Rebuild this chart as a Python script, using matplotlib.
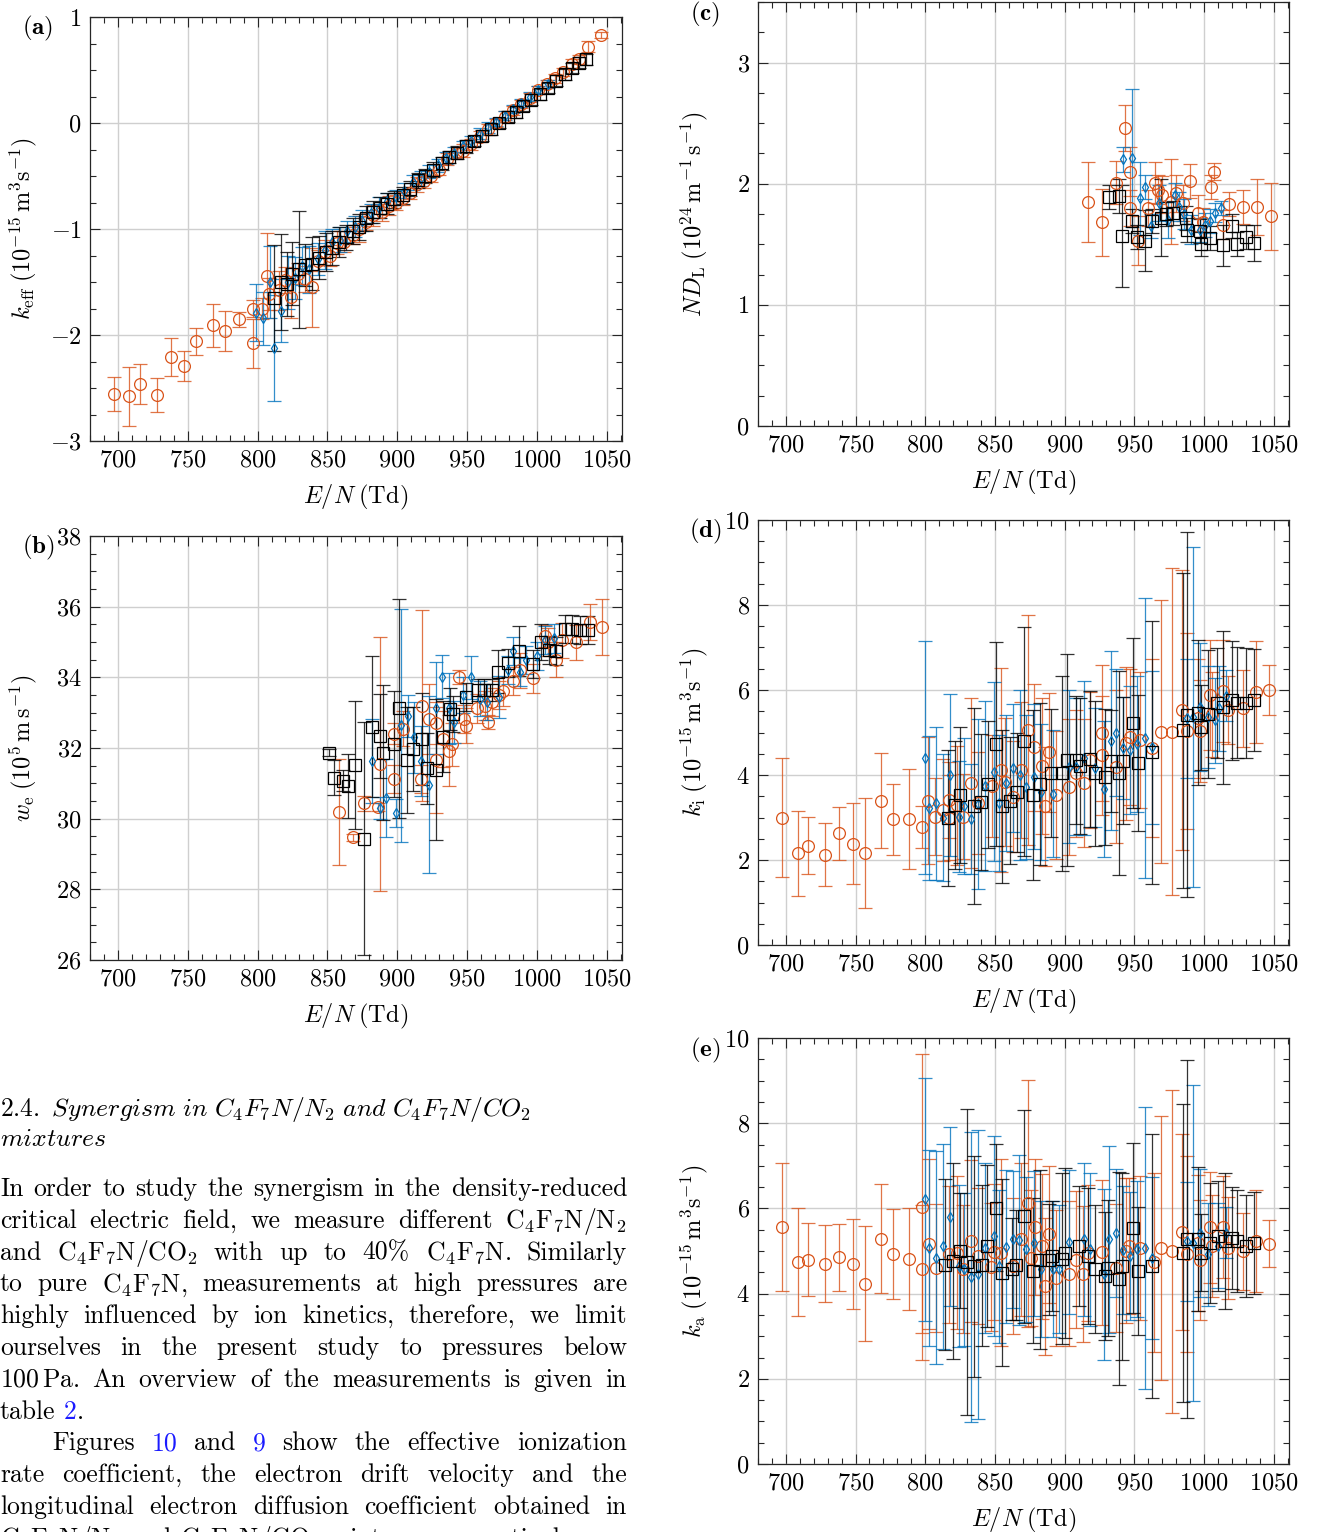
import matplotlib
matplotlib.use('Agg')
import matplotlib.pyplot as plt
import matplotlib.ticker as mticker
from matplotlib.colors import to_rgba

plt.rcParams['font.family'] = 'cmr10'
plt.rcParams['mathtext.fontset'] = 'cm'
plt.rcParams['axes.formatter.use_mathtext'] = True
plt.rcParams['axes.unicode_minus'] = True

ORANGE = '#D95319'
BLUE = '#0072BD'
BLACK = '#000000'

# ---- (a) effective ionization rate coefficient
a_or_x = [697, 708, 716, 728, 738, 747, 756, 768, 777, 787, 797, 797, 803, 807, 808, 815, 820, 824, 829, 834,
          839, 843, 848, 852, 857, 862, 868, 873, 878, 883, 889, 894, 899, 904, 909, 914, 919, 924, 930, 936,
          942, 947, 953, 959, 965, 971, 977, 983, 989, 995, 1001, 1007, 1013, 1019, 1025, 1030, 1037, 1046]
a_or_y = [-2.56, -2.58, -2.46, -2.57, -2.21, -2.29, -2.06, -1.91, -1.96, -1.85, -2.08, -1.75, -1.75, -1.44, -1.61,
          -1.58, -1.48, -1.64, -1.42, -1.47, -1.55, -1.30, -1.22, -1.25, -1.13, -1.12, -1.06, -1.00, -0.93, -0.87,
          -0.84, -0.78, -0.75, -0.71, -0.66, -0.58, -0.55, -0.50, -0.44, -0.34, -0.28, -0.26, -0.20, -0.13, -0.06,
          0.00, 0.06, 0.12, 0.18, 0.24, 0.31, 0.37, 0.42, 0.48, 0.56, 0.60, 0.72, 0.83]
a_or_e = [0.16, 0.28, 0.19, 0.16, 0.18, 0.14, 0.13, 0.20, 0.19, 0.07, 0.23, 0.08, 0.10, 0.40, 0.15, 0.18, 0.12, 0.20,
          0.10, 0.12, 0.37, 0.10, 0.12, 0.10, 0.11, 0.10, 0.08, 0.12, 0.08, 0.10, 0.08, 0.09, 0.07, 0.06, 0.06, 0.07,
          0.06, 0.06, 0.05, 0.06, 0.05, 0.06, 0.05, 0.05, 0.05, 0.04, 0.05, 0.04, 0.04, 0.04, 0.04, 0.04, 0.04, 0.04,
          0.04, 0.04, 0.05, 0.03]
a_bl_x = [799, 804, 809, 812, 817, 822, 827, 832, 837, 843, 848, 853, 859, 864, 870, 875, 881, 887, 893, 899,
          905, 911, 917, 923, 929, 935, 941, 947, 953, 959, 965, 971, 977, 983, 989, 995, 1001, 1008]
a_bl_y = [-1.79, -1.84, -1.50, -2.12, -1.77, -1.50, -1.46, -1.35, -1.38, -1.28, -1.20, -1.12, -1.10, -1.02, -0.98,
          -0.92, -0.85, -0.80, -0.74, -0.70, -0.64, -0.56, -0.52, -0.46, -0.40, -0.33, -0.28, -0.22, -0.17, -0.10,
          -0.04, 0.01, 0.07, 0.13, 0.19, 0.25, 0.31, 0.37]
a_bl_e = [0.27, 0.25, 0.34, 0.50, 0.30, 0.25, 0.20, 0.18, 0.22, 0.15, 0.18, 0.12, 0.12, 0.10, 0.10, 0.10, 0.09, 0.10,
          0.08, 0.07, 0.07, 0.07, 0.07, 0.06, 0.06, 0.06, 0.05, 0.05, 0.05, 0.05, 0.05, 0.04, 0.04, 0.04, 0.04, 0.04,
          0.04, 0.04]
a_bk_x = [812, 817, 821, 825, 830, 834, 839, 844, 849, 853, 858, 863, 868, 873, 878, 883, 888, 893, 898, 904,
          909, 915, 920, 926, 932, 937, 943, 949, 955, 961, 967, 973, 979, 985, 990, 996, 1002, 1008, 1014, 1020,
          1025, 1030, 1035]
a_bk_y = [-1.65, -1.50, -1.52, -1.42, -1.38, -1.34, -1.33, -1.27, -1.22, -1.18, -1.12, -1.08, -1.02, -0.98, -0.90,
          -0.84, -0.80, -0.76, -0.72, -0.68, -0.62, -0.54, -0.50, -0.44, -0.38, -0.32, -0.28, -0.22, -0.17, -0.12,
          -0.06, 0.00, 0.06, 0.10, 0.16, 0.22, 0.27, 0.33, 0.40, 0.46, 0.52, 0.57, 0.60]
a_bk_e = [0.50, 0.45, 0.30, 0.30, 0.55, 0.20, 0.25, 0.20, 0.18, 0.16, 0.14, 0.12, 0.12, 0.12, 0.12, 0.10, 0.10, 0.10,
          0.08, 0.08, 0.07, 0.07, 0.07, 0.07, 0.06, 0.06, 0.06, 0.06, 0.05, 0.05, 0.05, 0.05, 0.05, 0.05, 0.05, 0.05,
          0.05, 0.05, 0.05, 0.05, 0.05, 0.05, 0.05]

# ---- (b) drift velocity
b_or_x = [858, 868, 876, 886, 888, 898, 898, 904, 917, 918, 923, 928, 928, 933, 937, 939, 944, 948, 949, 957,
          963, 965, 968, 973, 976, 983, 988, 997, 1006, 1008, 1014, 1018, 1028, 1038, 1047]
b_or_y = [30.18, 29.47, 30.43, 30.33, 31.54, 31.12, 32.40, 32.55, 31.12, 33.20, 32.82, 32.70, 31.66, 32.25, 31.92,
          32.10, 34.00, 32.82, 32.63, 33.12, 33.20, 32.73, 33.30, 33.50, 33.60, 33.90, 34.20, 33.97, 35.17, 35.00,
          34.50, 35.05, 34.99, 35.57, 35.43]
b_or_e = [1.50, 0.10, 0.20, 0.10, 3.60, 0.40, 0.30, 0.50, 0.40, 2.70, 1.00, 0.60, 1.50, 0.80, 1.00, 0.60, 0.20, 0.40,
          0.50, 0.40, 0.40, 0.20, 0.40, 0.40, 0.40, 0.40, 0.50, 0.40, 0.30, 0.40, 0.50, 0.50, 0.50, 0.50, 0.80]
b_bl_x = [882, 888, 892, 899, 903, 908, 912, 917, 923, 928, 932, 937, 941, 947, 953, 959, 964, 973, 979, 983,
          988, 992, 1000, 1006, 1012]
b_bl_y = [31.63, 30.30, 30.59, 30.16, 32.64, 32.90, 32.30, 31.63, 30.96, 33.14, 34.02, 33.12, 32.73, 33.50, 34.00,
          33.40, 33.30, 33.45, 34.20, 34.75, 34.16, 34.50, 34.60, 35.05, 35.10]
b_bl_e = [1.20, 0.30, 1.10, 0.40, 3.30, 0.60, 1.00, 1.00, 2.50, 1.30, 0.60, 1.00, 0.60, 0.50, 0.60, 0.50, 0.50, 0.60,
          0.40, 0.40, 0.40, 0.40, 0.40, 0.40, 0.40]
b_bk_x = [851, 855, 861, 865, 870, 876, 882, 888, 890, 898, 901, 907, 911, 918, 921, 928, 933, 938, 940, 949,
          958, 962, 968, 972, 979, 987, 997, 1003, 1009, 1014, 1020, 1025, 1031, 1037]
b_bk_y = [31.87, 31.16, 31.07, 30.92, 31.52, 29.43, 32.60, 32.34, 31.87, 32.10, 33.12, 31.66, 31.97, 32.25, 31.42,
          31.39, 32.32, 33.10, 32.96, 33.45, 33.64, 33.64, 33.64, 34.16, 34.40, 34.75, 34.38, 35.00, 34.77, 34.75,
          35.36, 35.36, 35.34, 35.34]
b_bk_e = [0.10, 0.50, 0.30, 0.90, 1.80, 3.30, 2.00, 1.20, 1.90, 1.50, 3.10, 1.50, 1.20, 1.30, 1.00, 2.00, 1.00, 0.60,
          0.50, 0.40, 0.30, 0.30, 0.30, 0.60, 0.40, 0.70, 0.40, 0.50, 0.40, 0.40, 0.40, 0.40, 0.40, 0.40]

# ---- (c) longitudinal diffusion
c_or_x = [917, 927, 937, 943, 947, 947, 953, 960, 965, 967, 970, 976, 980, 985, 990, 996, 999, 1005, 1007, 1014,
          1018, 1028, 1038, 1048]
c_or_y = [1.85, 1.68, 2.01, 2.46, 2.10, 1.80, 1.53, 1.80, 2.01, 1.95, 1.91, 1.85, 1.92, 1.84, 2.02, 1.76, 1.68, 1.97,
          2.10, 1.66, 1.83, 1.81, 1.81, 1.73]
c_or_e = [0.33, 0.28, 0.18, 0.19, 0.20, 0.15, 0.20, 0.15, 0.17, 0.12, 0.15, 0.35, 0.15, 0.15, 0.14, 0.15, 0.12, 0.10,
          0.07, 0.12, 0.10, 0.14, 0.23, 0.28]
c_bl_x = [942, 948, 954, 958, 962, 968, 974, 979, 982, 986, 991, 997, 1001, 1004, 1008, 1012]
c_bl_y = [2.20, 2.21, 1.88, 1.97, 1.65, 1.84, 1.70, 1.91, 1.81, 1.75, 1.62, 1.62, 1.66, 1.69, 1.76, 1.80]
c_bl_e = [0.10, 0.57, 0.30, 0.10, 0.10, 0.15, 0.15, 0.10, 0.12, 0.12, 0.12, 0.10, 0.10, 0.10, 0.08, 0.06]
c_bk_x = [932, 939, 941, 948, 952, 958, 963, 969, 973, 978, 987, 988, 997, 998, 1004, 1014, 1020, 1024, 1030, 1036]
c_bk_y = [1.89, 1.90, 1.57, 1.69, 1.56, 1.53, 1.69, 1.72, 1.75, 1.76, 1.72, 1.62, 1.61, 1.50, 1.55, 1.49, 1.65, 1.50,
          1.56, 1.51]
c_bk_e = [0.10, 0.14, 0.42, 0.10, 0.10, 0.25, 0.10, 0.32, 0.10, 0.10, 0.10, 0.10, 0.10, 0.10, 0.10, 0.17, 0.10, 0.10,
          0.10, 0.15]

# ---- (d) ionization rate coefficient
d_or_x = [697, 709, 716, 728, 738, 748, 757, 768, 777, 788, 798, 802, 807, 813, 817, 817, 823, 827, 833, 838,
          848, 854, 857, 863, 869, 874, 878, 884, 886, 889, 894, 903, 908, 914, 918, 927, 927, 937, 944, 947,
          954, 963, 969, 977, 984, 988, 996, 997, 1004, 1006, 1014, 1017, 1028, 1037, 1047]
d_or_y = [3.00, 2.16, 2.34, 2.12, 2.63, 2.38, 2.16, 3.40, 2.96, 2.96, 2.78, 3.40, 3.02, 3.18, 3.41, 3.00, 3.29, 3.02,
          3.81, 3.33, 3.74, 4.12, 3.84, 3.49, 4.12, 5.06, 4.65, 4.21, 3.26, 4.54, 3.53, 3.72, 4.04, 3.81, 4.35, 4.47,
          4.98, 4.20, 4.75, 4.89, 4.82, 4.64, 5.02, 5.02, 5.53, 5.04, 5.33, 5.04, 5.88, 5.43, 5.98, 5.53, 5.57, 5.96,
          6.00]
d_or_e = [1.40, 1.00, 0.67, 0.74, 0.62, 0.95, 1.30, 1.12, 0.84, 1.18, 0.49, 1.50, 0.90, 1.20, 0.90, 1.00, 1.40, 1.00,
          2.00, 1.20, 1.20, 2.40, 1.50, 1.30, 1.60, 2.70, 1.50, 1.60, 1.40, 1.40, 1.50, 1.60, 1.50, 1.50, 1.60, 1.40,
          1.60, 1.80, 1.80, 1.60, 1.60, 2.10, 3.10, 3.85, 3.30, 2.30, 1.40, 1.20, 1.30, 1.00, 1.20, 0.80, 0.90, 1.20,
          0.60]
d_bl_x = [800, 803, 808, 813, 818, 824, 828, 833, 838, 843, 849, 853, 858, 863, 868, 872, 878, 883, 892, 903,
          908, 914, 922, 928, 933, 937, 942, 947, 952, 958, 963, 988, 992, 997, 1003, 1008, 1011, 1016]
d_bl_y = [4.41, 3.22, 3.33, 3.00, 4.00, 3.02, 3.26, 2.97, 3.32, 3.75, 4.08, 3.33, 3.82, 4.16, 4.00, 3.72, 3.96, 3.60,
          3.56, 4.20, 4.20, 4.40, 4.17, 3.68, 4.81, 5.00, 4.63, 4.59, 4.74, 4.87, 4.65, 5.33, 5.37, 5.60, 5.37, 5.29,
          5.57, 5.86]
d_bl_e = [2.75, 1.70, 1.80, 1.50, 1.90, 1.30, 1.60, 1.30, 2.00, 2.00, 2.10, 1.60, 1.60, 1.50, 2.00, 1.70, 1.70, 1.60,
          1.50, 1.80, 1.60, 1.80, 1.40, 1.60, 2.10, 1.50, 1.20, 1.50, 1.60, 3.30, 1.80, 1.40, 4.00, 1.50, 1.20, 1.00,
          1.00, 0.60]
d_bk_x = [816, 821, 825, 835, 840, 845, 851, 855, 861, 866, 871, 877, 882, 890, 898, 902, 908, 911, 918, 922,
          929, 933, 939, 942, 949, 953, 963, 985, 988, 996, 998, 1003, 1009, 1014, 1020, 1024, 1030, 1036]
d_bk_y = [2.98, 3.29, 3.53, 3.27, 3.37, 3.78, 4.73, 3.27, 3.40, 3.60, 4.79, 3.53, 3.79, 4.05, 4.04, 4.35, 4.35, 4.21,
          4.37, 4.04, 3.96, 4.33, 4.04, 4.34, 5.22, 4.29, 4.53, 5.05, 5.42, 5.47, 5.12, 5.44, 5.69, 5.59, 5.76, 5.70,
          5.69, 5.76]
d_bk_e = [1.60, 1.50, 1.60, 2.30, 1.60, 1.50, 2.40, 1.80, 1.50, 1.40, 2.70, 2.00, 1.90, 1.50, 2.30, 2.50, 1.50, 1.60,
          1.60, 1.70, 1.60, 1.20, 2.40, 1.50, 2.00, 1.60, 3.10, 3.70, 4.30, 1.70, 1.00, 1.50, 1.30, 1.80, 1.40, 1.30,
          1.30, 1.20]

# ---- (e) attachment rate coefficient
e_or_x = [697, 709, 716, 728, 738, 748, 757, 768, 777, 788, 798, 798, 803, 808, 817, 823, 827, 833, 838, 847,
          849, 854, 863, 869, 874, 876, 879, 884, 886, 889, 894, 903, 908, 913, 917, 927, 937, 944, 946, 954,
          964, 969, 977, 984, 988, 996, 997, 1004, 1006, 1014, 1017, 1028, 1037, 1047]
e_or_y = [5.56, 4.75, 4.80, 4.70, 4.85, 4.69, 4.23, 5.29, 4.93, 4.82, 6.03, 4.57, 5.17, 4.60, 4.92, 4.96, 4.57, 5.23,
          4.88, 4.62, 4.97, 4.96, 4.65, 5.27, 6.12, 4.84, 5.56, 5.11, 4.17, 5.39, 4.36, 4.47, 4.80, 4.46, 4.96, 4.97,
          4.60, 5.01, 5.12, 5.07, 4.74, 5.07, 4.99, 5.45, 4.92, 5.19, 4.79, 5.56, 5.12, 5.57, 5.07, 4.99, 5.24, 5.17]
e_or_e = [1.50, 1.27, 0.85, 0.90, 0.78, 1.05, 1.35, 1.28, 1.05, 1.20, 3.60, 1.50, 2.00, 1.50, 1.60, 1.80, 1.50, 1.90,
          1.60, 1.50, 1.60, 2.20, 1.60, 1.80, 2.90, 1.60, 1.60, 1.70, 1.60, 1.60, 1.60, 1.70, 1.60, 1.60, 1.60, 1.70,
          1.50, 1.70, 1.60, 1.70, 2.10, 3.10, 3.80, 2.30, 2.30, 1.60, 1.40, 1.30, 1.20, 1.20, 1.20, 0.90, 1.20, 0.55]
e_bl_x = [800, 803, 808, 813, 818, 824, 828, 833, 838, 843, 849, 853, 858, 863, 867, 872, 878, 883, 892, 896,
          903, 914, 918, 928, 932, 937, 942, 947, 952, 958, 963, 988, 992, 997, 1003, 1010, 1016]
e_bl_y = [6.21, 5.07, 4.84, 5.11, 5.80, 4.64, 4.57, 4.39, 4.45, 5.07, 5.35, 4.64, 5.10, 5.27, 5.26, 5.04, 5.18, 4.57,
          4.57, 4.57, 5.21, 5.27, 5.04, 4.45, 5.27, 5.43, 5.02, 4.88, 5.04, 5.07, 4.84, 5.23, 5.19, 5.43, 4.92, 5.12,
          5.43]
e_bl_e = [2.85, 2.30, 2.50, 2.40, 2.10, 1.90, 1.80, 3.40, 3.40, 2.00, 2.35, 1.80, 1.80, 1.60, 2.00, 1.70, 1.70, 1.60,
          1.60, 1.50, 1.70, 1.80, 1.80, 2.00, 2.20, 1.50, 1.50, 1.50, 1.60, 3.30, 1.90, 1.40, 3.70, 1.50, 1.20, 1.00,
          0.60]
e_bk_x = [814, 820, 825, 830, 835, 841, 844, 851, 855, 862, 865, 871, 877, 882, 889, 891, 898, 900, 910, 917,
          922, 929, 931, 939, 941, 949, 953, 963, 985, 988, 996, 998, 1004, 1010, 1015, 1020, 1024, 1030, 1036]
e_bk_y = [4.68, 4.76, 5.01, 4.74, 4.64, 4.66, 5.11, 6.02, 4.49, 4.58, 4.67, 5.82, 4.54, 4.80, 4.80, 4.88, 4.82, 4.96,
          5.12, 4.88, 4.58, 4.42, 4.60, 4.35, 4.64, 5.54, 4.53, 4.64, 4.96, 5.28, 5.28, 4.96, 5.19, 5.35, 5.23, 5.31,
          5.23, 5.12, 5.18]
e_bk_e = [2.00, 2.30, 1.35, 3.60, 2.60, 1.90, 1.90, 1.50, 2.20, 1.20, 1.30, 2.50, 1.70, 2.10, 1.30, 1.30, 2.00, 2.00,
          1.40, 1.60, 1.50, 1.50, 1.60, 2.50, 2.20, 2.00, 1.50, 3.10, 3.50, 4.20, 1.70, 0.90, 1.40, 1.30, 1.60, 1.20,
          1.20, 1.20, 1.20]

x_ticks = [700, 750, 800, 850, 900, 950, 1000, 1050]

W, H = 1325, 1532
fig = plt.figure(figsize=(W / 100, H / 100), dpi=100)
LFS = 17.5


def px_axes(left, top, right, bottom):
    return fig.add_axes([left / W, 1 - bottom / H, (right - left) / W, (bottom - top) / H])


def draw_panel(ax, series, ylim, ymajor, yminor, ylabel, ylab_x, letter, letter_xy):
    for x, y, e, color, marker, ms in series:
        ax.errorbar(x, y, yerr=e, fmt=marker, mfc='none', mec=color, ms=ms, mew=0.9,
                    ecolor=to_rgba(color, 0.8), elinewidth=0.9, capsize=5, capthick=0.9, zorder=3)
    ax.set_xlim(680, 1061)
    ax.set_ylim(*ylim)
    ax.xaxis.set_major_locator(mticker.FixedLocator(x_ticks))
    ax.xaxis.set_minor_locator(mticker.MultipleLocator(10))
    ax.yaxis.set_major_locator(mticker.MultipleLocator(ymajor))
    ax.yaxis.set_minor_locator(mticker.MultipleLocator(yminor))
    ax.grid(True, which='major', color='#cfcfcf', linewidth=1.0, zorder=0)
    ax.set_axisbelow(True)
    ax.tick_params(which='both', direction='in', top=True, right=True, colors='#262626',
                   labelcolor='black', labelsize=LFS, width=0.8, pad=6)
    ax.tick_params(which='major', length=7)
    ax.tick_params(which='minor', length=4)
    for s in ax.spines.values():
        s.set_color('#262626')
        s.set_linewidth(0.9)
    ax.set_xlabel(r'$E/N\;(\mathrm{Td})$', fontsize=LFS)
    ax.set_ylabel(ylabel, fontsize=LFS)
    ax.xaxis.set_label_coords(0.5, -0.098)
    ax.yaxis.set_label_coords(ylab_x, 0.5)
    fig.text(letter_xy[0] / W, 1 - letter_xy[1] / H, r'$\mathbf{(%s)}$' % letter,
             fontsize=18, ha='center', va='center')


def three(ox, oy, oe, bx, by, be, kx, ky, ke):
    return [(ox, oy, oe, ORANGE, 'o', 8.5),
            (bx, by, be, BLUE, 'd', 5.5),
            (kx, ky, ke, BLACK, 's', 8.0)]


k_label = r'$k_{\mathrm{%s}}\;(10^{-15}\,\mathrm{m^3s^{-1}})$'

ax_a = px_axes(90, 17, 622, 441)
draw_panel(ax_a, three(a_or_x, a_or_y, a_or_e, a_bl_x, a_bl_y, a_bl_e, a_bk_x, a_bk_y, a_bk_e),
           (-3, 1), 1, 0.25, k_label % 'eff', -0.095, 'a', (38, 28))

ax_b = px_axes(90, 536, 622, 960)
draw_panel(ax_b, three(b_or_x, b_or_y, b_or_e, b_bl_x, b_bl_y, b_bl_e, b_bk_x, b_bk_y, b_bk_e),
           (26, 38), 2, 0.5, r'$w_{\mathrm{e}}\;(10^{5}\,\mathrm{m\,s^{-1}})$', -0.095, 'b', (38, 547))

ax_c = px_axes(758, 2, 1289, 426)
draw_panel(ax_c, three(c_or_x, c_or_y, c_or_e, c_bl_x, c_bl_y, c_bl_e, c_bk_x, c_bk_y, c_bk_e),
           (0, 3.5), 1, 0.25, r'$ND_{\mathrm{L}}\;(10^{24}\,\mathrm{m^{-1}\,s^{-1}})$', -0.09, 'c', (705, 14))

ax_d = px_axes(758, 520, 1289, 945)
draw_panel(ax_d, three(d_or_x, d_or_y, d_or_e, d_bl_x, d_bl_y, d_bl_e, d_bk_x, d_bk_y, d_bk_e),
           (0, 10), 2, 0.5, k_label % 'i', -0.09, 'd', (705, 531))

ax_e = px_axes(758, 1038, 1289, 1464)
draw_panel(ax_e, three(e_or_x, e_or_y, e_or_e, e_bl_x, e_bl_y, e_bl_e, e_bk_x, e_bk_y, e_bk_e),
           (0, 10), 2, 0.5, k_label % 'a', -0.09, 'e', (705, 1050))

# ---- text column
FS = 18.5
LINK = '#1a1aff'
renderer = fig.canvas.get_renderer()

fig.text(0, 1 - 1116 / H, r'$2.4.\ Synergism\ in\ C_4F_7N/N_2\ and\ C_4F_7N/CO_2$', fontsize=FS,
         ha='left', va='baseline')
fig.text(0, 1 - 1146 / H, r'$mixtures$', fontsize=FS, ha='left', va='baseline')

C4F7N = r'C$_4$F$_7$N'
para = [
    (0, True, ['In', 'order', 'to', 'study', 'the', 'synergism', 'in', 'the', 'density-reduced']),
    (0, True, ['critical', 'electric', 'field,', 'we', 'measure', 'different', C4F7N + r'/N$_2$']),
    (0, True, ['and', C4F7N + r'/CO$_2$', 'with', 'up', 'to', '40%', C4F7N + '.', 'Similarly']),
    (0, True, ['to', 'pure', C4F7N + ',', 'measurements', 'at', 'high', 'pressures', 'are']),
    (0, True, ['highly', 'influenced', 'by', 'ion', 'kinetics,', 'therefore,', 'we', 'limit']),
    (0, True, ['ourselves', 'in', 'the', 'present', 'study', 'to', 'pressures', 'below']),
    (0, True, [r'100$\,$Pa.', 'An', 'overview', 'of', 'the', 'measurements', 'is', 'given', 'in']),
    (0, False, ['table', [('2', LINK), ('.', 'black')]]),
    (52, True, ['Figures', [('10', LINK)], 'and', [('9', LINK)], 'show', 'the', 'effective', 'ionization']),
    (0, True, ['rate', 'coefficient,', 'the', 'electron', 'drift', 'velocity', 'and', 'the']),
    (0, True, ['longitudinal', 'electron', 'diffusion', 'coefficient', 'obtained', 'in']),
    (0, False, [C4F7N + r'/N$_2$', 'and', C4F7N + r'/CO$_2$', 'mixtures,', 'respectively.']),
]
baseline0 = 1196
leading = 31.8
right_edge = 627
space_px = FS * 100 / 72 * 0.333

for i, (indent, justify, words) in enumerate(para):
    ybase = 1 - (baseline0 + i * leading) / H
    pieces = []
    widths = []
    for w in words:
        parts = [(w, 'black')] if isinstance(w, str) else w
        ts = [fig.text(0, ybase, s, color=c, fontsize=FS, ha='left', va='baseline') for s, c in parts]
        ws = [t.get_window_extent(renderer).width for t in ts]
        pieces.append((ts, ws))
        widths.append(sum(ws))
    if justify and len(words) > 1:
        gap = (right_edge - indent - sum(widths)) / (len(words) - 1)
    else:
        gap = space_px
    xpos = indent
    for ts, ws in pieces:
        for t, wpx in zip(ts, ws):
            t.set_x(xpos / W)
            xpos += wpx
        xpos += gap

fig.savefig('out.png', dpi=100)
